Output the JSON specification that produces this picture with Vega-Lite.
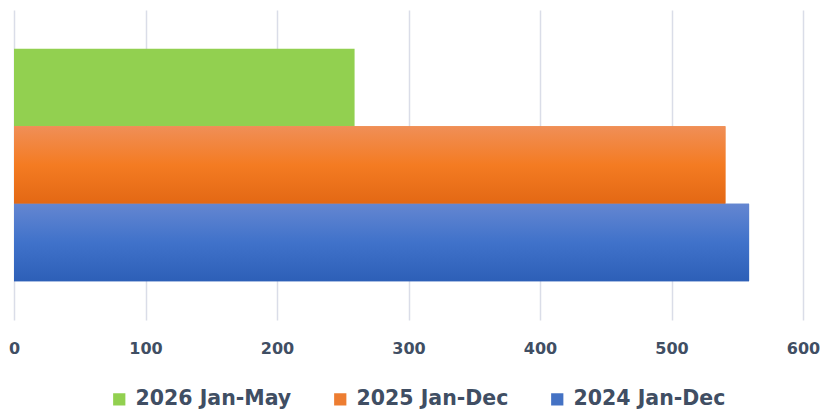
{
  "$schema": "https://vega.github.io/schema/vega-lite/v6.json",
  "width": 789,
  "height": 310,
  "autosize": {"type": "none"},
  "padding": {"left": 14, "top": 10, "right": 20, "bottom": 92},
  "background": "#ffffff",
  "config": {"view": {"stroke": null}, "font": "DejaVu Sans"},
  "data": {
    "values": [
      {"series": "2026 Jan-May", "value": 259},
      {"series": "2025 Jan-Dec", "value": 541},
      {"series": "2024 Jan-Dec", "value": 559}
    ]
  },
  "encoding": {
    "y": {
      "field": "series",
      "type": "nominal",
      "sort": ["2026 Jan-May", "2025 Jan-Dec", "2024 Jan-Dec"],
      "scale": {"paddingInner": 0, "paddingOuter": 0.5},
      "axis": null
    },
    "x": {
      "field": "value",
      "type": "quantitative",
      "scale": {"domain": [0, 600], "nice": false},
      "axis": {
        "title": null,
        "values": [0, 100, 200, 300, 400, 500, 600],
        "domain": false,
        "ticks": false,
        "grid": true,
        "gridColor": "#DADDE8",
        "gridWidth": 1.5,
        "labelFontSize": 16,
        "labelFontWeight": "bold",
        "labelColor": "#404E63",
        "labelPadding": 20,
        "labelFlush": false
      }
    }
  },
  "layer": [
    {
      "mark": {"type": "bar"},
      "encoding": {
        "color": {
          "field": "series",
          "type": "nominal",
          "scale": {
            "domain": ["2026 Jan-May", "2025 Jan-Dec", "2024 Jan-Dec"],
            "range": ["#92D050", "#ED7D31", "#4472C4"]
          },
          "legend": {
            "title": null,
            "orient": "none",
            "legendX": 95,
            "legendY": 379,
            "direction": "horizontal",
            "symbolType": "square",
            "symbolSize": 150,
            "symbolStrokeWidth": 0,
            "labelFontSize": 20.5,
            "labelFontWeight": "bold",
            "labelColor": "#404E63",
            "labelOffset": 6,
            "columnPadding": 38,
            "labelLimit": 300
          }
        }
      }
    },
    {
      "transform": [{"filter": "datum.series === '2025 Jan-Dec'"}],
      "mark": {
        "type": "bar",
        "color": {
          "gradient": "linear",
          "x1": 0, "y1": 0, "x2": 0, "y2": 1,
          "stops": [
            {"offset": 0, "color": "#F08F57"},
            {"offset": 0.5, "color": "#F47B22"},
            {"offset": 1, "color": "#E36814"}
          ]
        }
      }
    },
    {
      "transform": [{"filter": "datum.series === '2024 Jan-Dec'"}],
      "mark": {
        "type": "bar",
        "color": {
          "gradient": "linear",
          "x1": 0, "y1": 0, "x2": 0, "y2": 1,
          "stops": [
            {"offset": 0, "color": "#6486D1"},
            {"offset": 0.5, "color": "#4072CA"},
            {"offset": 1, "color": "#2D5FB7"}
          ]
        }
      }
    }
  ]
}
